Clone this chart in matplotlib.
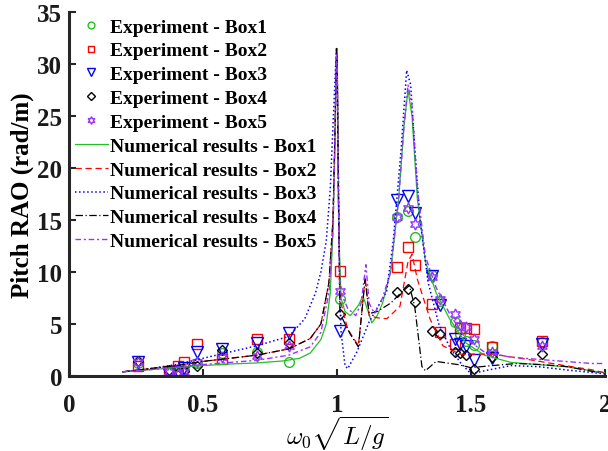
import numpy as np
import matplotlib
matplotlib.use("Agg")
import matplotlib.pyplot as plt

plt.rcParams['font.family'] = ['Liberation Serif', 'DejaVu Serif']
plt.rcParams['font.weight'] = 'bold'
plt.rcParams['mathtext.fontset'] = 'cm'

# experiment points (nondimensional frequency, pitch RAO)
x_exp = [0.257, 0.373, 0.407, 0.43, 0.477, 0.57, 0.70, 0.82, 1.011,
         1.224, 1.265, 1.29, 1.355, 1.385, 1.44, 1.46, 1.48, 1.51, 1.58, 1.765]
box1_exp = [1.2, 0.4, 0.3, 0.6, 1.2, 2.2, 2.3, 1.35, 7.4,
            15.3, 15.9, 13.4, 9.7, 7.2, 5.2, 4.0, 3.4, 3.0, 2.9, 3.3]
box2_exp = [1.0, 0.5, 0.97, 1.3, 3.1, 1.6, 3.6, 3.6, 10.1,
            10.5, 12.4, 10.7, 6.9, 4.2, 3.1, 4.6, 4.6, 4.5, 2.8, 3.4]
box3_exp = [1.3, 0.2, 0.4, 0.8, 2.3, 2.6, 3.2, 4.1, 4.3,
            16.9, 17.3, 15.7, 9.6, 6.8, 3.6, 3.1, 2.9, 1.5, 1.7, 3.1]
box4_exp = [1.4, 0.6, 0.3, 0.5, 1.0, 2.5, 2.2, 3.2, 6.0,
            8.1, 8.4, 7.1, 4.3, 4.0, 2.3, 2.2, 2.0, 0.7, 1.8, 2.1]
box5_exp = [1.3, 0.4, 0.2, 0.4, 1.35, 1.8, 1.9, 2.9, 8.2,
            15.3, 16.2, 14.6, 9.5, 7.4, 6.0, 4.9, 4.7, 3.6, 2.3, 2.9]

# numerical results
x_b1 = [0.20, 0.30, 0.40, 0.50, 0.60, 0.70, 0.80, 0.86, 0.90, 0.94, 0.96, 0.975,
        0.985, 0.992, 0.997, 1.000, 1.003, 1.008, 1.015, 1.03, 1.05, 1.08, 1.097,
        1.13, 1.15, 1.17, 1.20, 1.23, 1.25, 1.265, 1.28, 1.30, 1.33, 1.37, 1.42,
        1.48, 1.55, 1.65, 1.75, 1.85, 1.95, 2.00]
y_b1 = [0.4, 0.6, 0.8, 1.0, 1.15, 1.25, 1.45, 1.7, 2.2, 3.5, 5.0, 8.0,
        14.0, 22.0, 30.0, 31.5, 25.0, 13.0, 7.5, 6.2, 5.8, 6.8, 7.7,
        5.1, 5.8, 7.0, 10.0, 17.0, 24.0, 27.5, 25.0, 17.0, 11.0, 8.0, 5.5,
        3.2, 2.0, 1.3, 1.1, 0.9, 0.5, 0.3]

x_b2 = [0.20, 0.30, 0.40, 0.50, 0.60, 0.70, 0.82, 0.90, 0.94, 0.97, 0.985,
        0.993, 0.998, 1.001, 1.005, 1.011, 1.04, 1.08, 1.105, 1.12, 1.15, 1.186,
        1.235, 1.265, 1.28, 1.30, 1.347, 1.395, 1.46, 1.58, 1.71, 1.85, 1.95, 2.00]
y_b2 = [0.4, 0.7, 1.0, 1.4, 1.7, 2.0, 2.6, 3.6, 5.0, 9.0, 15.0,
        24.0, 31.5, 30.0, 18.0, 7.4, 4.5, 2.9, 9.5, 5.8, 5.6, 5.5,
        6.7, 11.0, 11.7, 9.3, 5.5, 2.9, 2.1, 2.1, 1.6, 1.0, 0.6, 0.3]

x_b3 = [0.20, 0.30, 0.40, 0.50, 0.60, 0.70, 0.82, 0.88, 0.92, 0.94, 0.96, 0.975,
        0.99, 0.997, 1.000, 1.005, 1.010, 1.015, 1.03, 1.04, 1.074, 1.12, 1.185,
        1.21, 1.24, 1.26, 1.275, 1.29, 1.31, 1.34, 1.38, 1.42, 1.46, 1.50, 1.55,
        1.65, 1.75, 1.85, 2.00]
y_b3 = [0.4, 0.7, 1.1, 1.7, 2.3, 2.9, 3.8, 5.5, 8.0, 10.0, 13.0, 18.0,
        27.0, 31.0, 31.0, 20.0, 8.0, 4.3, 1.0, 0.7, 2.3, 5.2, 8.1,
        13.0, 22.0, 29.4, 28.0, 22.0, 15.0, 9.0, 5.0, 2.8, 1.3, 0.2, 0.5,
        1.0, 0.9, 0.6, 0.2]

x_b4 = [0.20, 0.30, 0.40, 0.50, 0.60, 0.70, 0.82, 0.90, 0.94, 0.97, 0.985,
        0.993, 0.998, 1.001, 1.005, 1.011, 1.05, 1.08, 1.105, 1.12, 1.15, 1.20,
        1.235, 1.27, 1.29, 1.317, 1.33, 1.37, 1.45, 1.50, 1.58, 1.67, 1.76, 1.86,
        1.98]
y_b4 = [0.4, 0.7, 1.0, 1.4, 1.7, 2.0, 2.6, 3.6, 5.0, 9.0, 15.0,
        24.0, 31.5, 30.0, 18.0, 6.0, 4.0, 2.8, 9.3, 6.0, 6.2, 7.0,
        7.9, 8.7, 6.7, 0.9, 0.5, 1.4, 1.1, 0.8, 1.0, 1.2, 1.1, 0.9,
        0.3]

x_b5 = [0.20, 0.30, 0.40, 0.50, 0.60, 0.70, 0.82, 0.90, 0.94, 0.97, 0.985,
        0.993, 0.998, 1.001, 1.005, 1.011, 1.04, 1.07, 1.09, 1.108, 1.12, 1.14,
        1.17, 1.20, 1.23, 1.25, 1.265, 1.28, 1.30, 1.33, 1.37, 1.42, 1.48, 1.55,
        1.65, 1.75, 1.85, 1.95, 2.00]
y_b5 = [0.4, 0.6, 0.85, 1.1, 1.3, 1.5, 2.0, 2.8, 4.2, 8.0, 14.0,
        23.0, 31.0, 30.0, 17.0, 8.2, 6.5, 5.8, 7.0, 10.7, 7.0, 6.0,
        7.5, 10.0, 17.0, 24.0, 28.0, 26.0, 18.0, 11.5, 8.5, 6.0, 3.6, 2.3,
        1.8, 1.6, 1.4, 1.2, 1.2]

green = '#22c022'
purple = '#9933ff'

fig = plt.figure(figsize=(6.08, 4.52), dpi=100)
ax = fig.add_axes([0.1135, 0.166, 0.8815, 0.805])

ms = 7
ax.plot(x_exp, box1_exp, 'o', ms=ms, mfc='none', mec=green, mew=1.0, label='Experiment - Box1')
ax.plot(x_exp, box2_exp, 's', ms=ms - 0.5, mfc='none', mec='red', mew=1.0, label='Experiment - Box2')
ax.plot(x_exp, box3_exp, 'v', ms=ms + 1, mfc='none', mec='blue', mew=1.0, label='Experiment - Box3')
ax.plot(x_exp, box4_exp, 'D', ms=ms - 1.5, mfc='none', mec='black', mew=1.0, label='Experiment - Box4')
ax.plot(x_exp, box5_exp, marker=(6, 1, 0), ls='none', ms=ms + 1, mfc='none', mec=purple, mew=1.0,
        label='Experiment - Box5')

ax.plot(x_b1, y_b1, '-', color=green, lw=0.9, label='Numerical results - Box1')
ax.plot(x_b2, y_b2, '--', color='red', lw=0.9, dashes=(5, 3), label='Numerical results - Box2')
ax.plot(x_b3, y_b3, ':', color='blue', lw=1.1, label='Numerical results - Box3')
ax.plot(x_b4, y_b4, '-.', color='black', lw=0.9, dashes=(6, 2, 1, 2), label='Numerical results - Box4')
ax.plot(x_b5, y_b5, '-.', color=purple, lw=1.0, dashes=(4, 2, 1.5, 2), label='Numerical results - Box5')

ax.set_xlim(0, 2)
ax.set_ylim(0, 35)
ax.set_xticks([0, 0.5, 1, 1.5, 2])
ax.set_xticklabels(['0', '0.5', '1', '1.5', '2'])
ax.set_yticks(np.arange(0, 36, 5))
ax.tick_params(direction='in', length=5, width=1.5, labelsize=18, colors='#262626')
ax.tick_params(axis='x', pad=12)
ax.tick_params(axis='y', pad=5)
for lab in ax.get_xticklabels() + ax.get_yticklabels():
    lab.set_fontweight('bold')
    lab.set_color('#1a1a1a')

for s in ['top', 'right']:
    ax.spines[s].set_visible(False)
for s in ['left', 'bottom']:
    ax.spines[s].set_linewidth(2.2)
    ax.spines[s].set_color('#262626')

ax.set_ylabel('Pitch RAO (rad/m)', fontsize=18, fontweight='bold', labelpad=2)
ax.set_xlabel(r'$\omega_0\sqrt{L/g}$', fontsize=18, labelpad=-1.5)

leg = ax.legend(loc='upper left', bbox_to_anchor=(0.0, 1.0), frameon=False,
                prop={'family': 'Liberation Serif', 'weight': 'bold', 'size': 14},
                handlelength=1.7, handletextpad=0.1, labelspacing=0.32,
                borderaxespad=0.0, borderpad=0.3, markerscale=0.7)

fig.savefig('out.png', dpi=100)
